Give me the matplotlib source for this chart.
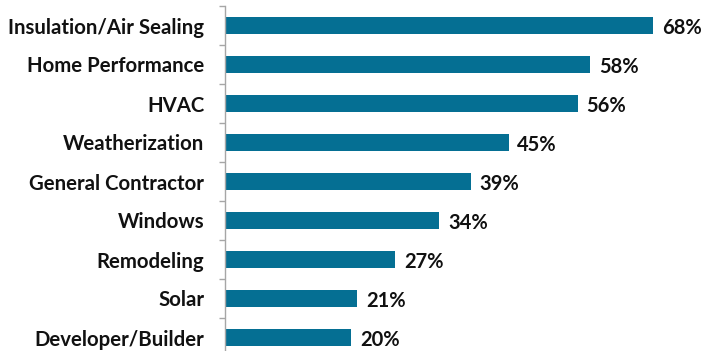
import matplotlib
matplotlib.use("Agg")
import matplotlib.pyplot as plt
import numpy as np

# ---------- DATA ----------
categories = ["Insulation/Air Sealing", "Home Performance", "HVAC", "Weatherization",
              "General Contractor", "Windows", "Remodeling", "Solar", "Developer/Builder"]
shares = [68, 58, 56, 45, 39, 34, 27, 21, 20]

BAR_COLOR = "#056f93"
plt.rcParams['font.family'] = ['Lato', 'DejaVu Sans']

fig = plt.figure(figsize=(7.07, 3.51), dpi=100)
ax = fig.add_axes([225 / 707, -6 / 351, 482 / 707, 1.0])

y = np.arange(len(categories))
ax.barh(y, shares, height=0.44, color=BAR_COLOR)

for yi, v in zip(y, shares):
    ax.text(v + 1.4, yi + 0.07, f"{v}%", va="center", ha="left",
            fontsize=14.5, fontweight="bold", color="#111111")

ax.set_xlim(0, 76.5)
ax.set_ylim(len(categories) - 0.5, -0.5)

# labels at bar centres, tick marks at the category boundaries
ax.set_yticks(y)
ax.set_yticklabels(categories, fontsize=14.7, fontweight="bold", color="#111111")
ax.set_yticks(np.arange(len(categories) + 1) - 0.5, minor=True)
ax.tick_params(axis="y", which="major", length=0, pad=15)
ax.tick_params(axis="y", which="minor", length=4.3, width=1, color="#a6a6a6")
ax.set_xticks([])

for side in ["top", "right", "bottom"]:
    ax.spines[side].set_visible(False)
ax.spines["left"].set_color("#a6a6a6")
ax.spines["left"].set_linewidth(1)

fig.savefig("out.png", dpi=100)
